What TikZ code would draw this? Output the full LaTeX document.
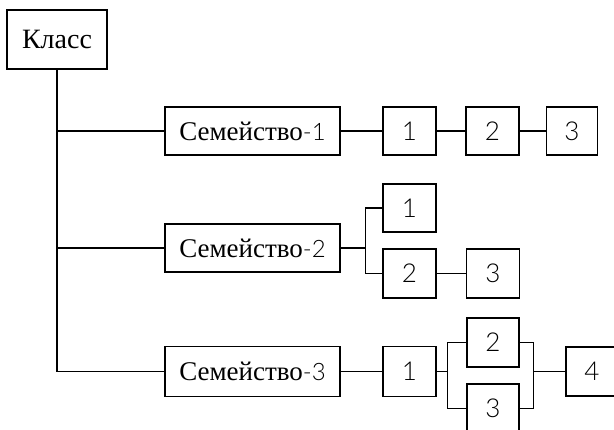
\documentclass[tikz,border=0pt]{standalone}
\usepackage{fontspec}
\setmainfont{Liberation Serif}
\newfontfamily\thinf{Lato Light}
\begin{document}
\begin{tikzpicture}[x=1pt,y=-1pt,line width=1.4pt,
  box/.style={draw,rectangle,inner sep=0pt,minimum height=48pt,font=\fontsize{27}{32}\selectfont},
  famb/.style={box,minimum width=175pt},
  dig/.style={box,minimum width=53pt,font=\fontsize{26}{30}\selectfont\thinf}]
\clip (0,0) rectangle (614,430);
\node[box,minimum width=100pt,minimum height=59pt,font=\fontsize{28}{32}\selectfont] (k) at (57,39.5) {Класс};
\node[famb] (f1) at (252.5,131) {Семейство{\thinf\fontsize{24}{28}\selectfont-1}};
\node[famb] (f2) at (252.5,248) {Семейство{\thinf\fontsize{24}{28}\selectfont-2}};
\node[famb,minimum height=50pt] (f3) at (252.5,371.5) {Семейство{\thinf\fontsize{24}{28}\selectfont-3}};
\node[dig] (r1a) at (409.5,131) {1};
\node[dig] (r1b) at (492.5,131) {2};
\node[dig,minimum width=51pt] (r1c) at (572,131) {3};
\node[dig] (r2a) at (409.5,208) {1};
\node[dig,minimum height=49pt] (r2b) at (409.5,273.5) {2};
\node[dig,minimum height=49pt] (r2c) at (493,273.5) {3};
\node[dig,minimum height=50pt] (r3a) at (409.5,371.5) {1};
\node[dig,minimum width=52pt,minimum height=49pt] (r3b) at (493,342.5) {2};
\node[dig,minimum width=52pt,minimum height=49pt] (r3c) at (493,408.5) {3};
\node[dig,minimum width=52pt,minimum height=49pt] (r3d) at (592,371.5) {4};
% trunk
\draw (k.south) |- (f3.west);
\draw (k.south |- f1.west) -- (f1.west);
\draw (k.south |- f2.west) -- (f2.west);
% row 1
\draw (f1) -- (r1a);
\draw (r1a) -- (r1b);
\draw (r1b) -- (r1c);
% row 2
\draw (f2.east) -- ++(25,0) coordinate (j2);
\draw (r2a.west) -| (j2) |- (r2b.west);
\draw (r2b) -- (r2c);
% row 3
\draw (f3) -- (r3a);
\draw (r3a.east) -- ++(11,0) coordinate (jl);
\draw (r3b.west) -| (jl) |- (r3c.west);
\draw (r3d.west) -- ++(-32,0) coordinate (jr);
\draw (r3b.east) -| (jr) |- (r3c.east);
\end{tikzpicture}
\end{document}
